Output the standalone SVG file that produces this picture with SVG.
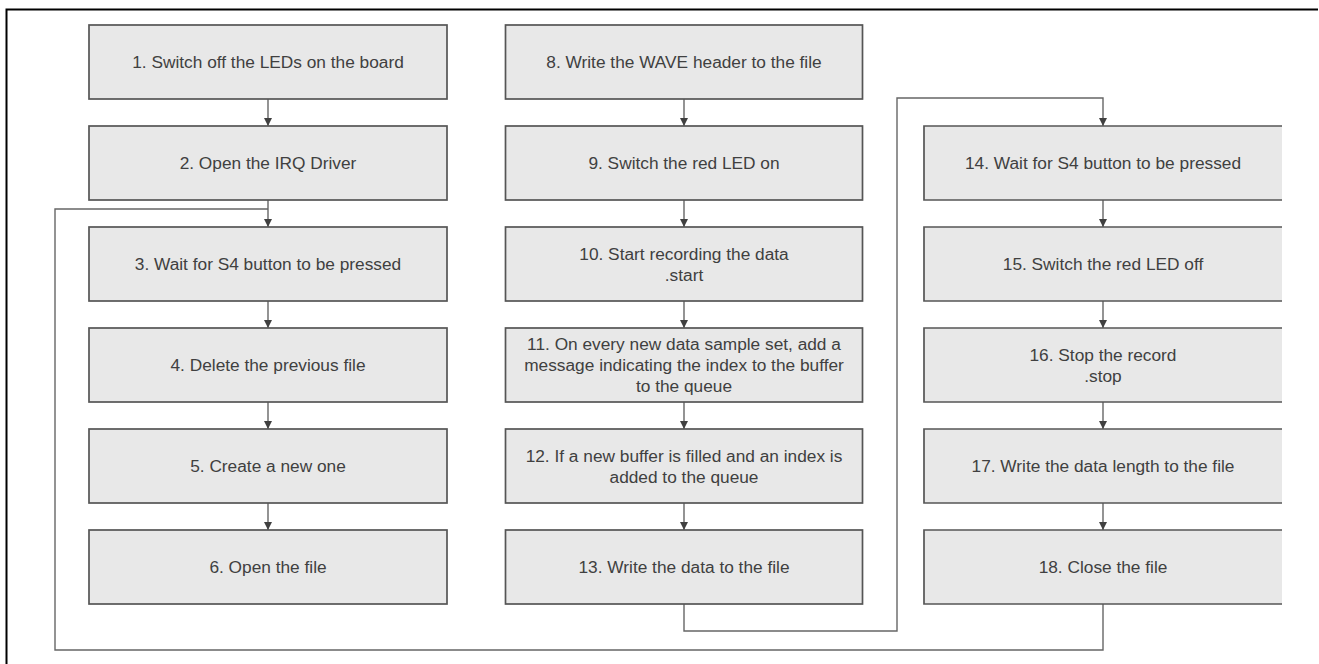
<svg xmlns="http://www.w3.org/2000/svg" width="1319" height="664" viewBox="0 0 1319 664">
<style>
.box{fill:#e8e8e8;stroke:#555;stroke-width:1.7}
.fill{fill:#e8e8e8}
.edge{fill:none;stroke:#555;stroke-width:1.7}
.t{font-family:"Liberation Sans",Arial,sans-serif;font-size:17.3px;fill:#404040;text-anchor:middle}
.c{fill:none;stroke:#666;stroke-width:1.4}
</style>
<defs>
<marker id="ah" markerWidth="8" markerHeight="8" refX="8" refY="4" orient="auto" markerUnits="userSpaceOnUse">
<path d="M0,0 L8,4 L0,8 Z" fill="#404040"/>
</marker>
</defs>
<rect width="1319" height="664" fill="#fff"/>
<path d="M6.5,664 V9.5 H1318" fill="none" stroke="#000" stroke-width="2"/>

<g id="connectors">
<path class="c" d="M268,99 V126" marker-end="url(#ah)"/>
<path class="c" d="M268,200 V227" marker-end="url(#ah)"/>
<path class="c" d="M268,301 V328" marker-end="url(#ah)"/>
<path class="c" d="M268,402 V429" marker-end="url(#ah)"/>
<path class="c" d="M268,503 V530" marker-end="url(#ah)"/>
<path class="c" d="M1103,604 V650 H55 V209 H268"/>
<path class="c" d="M684,99 V126" marker-end="url(#ah)"/>
<path class="c" d="M684,200 V227" marker-end="url(#ah)"/>
<path class="c" d="M684,301 V328" marker-end="url(#ah)"/>
<path class="c" d="M684,402 V429" marker-end="url(#ah)"/>
<path class="c" d="M684,503 V530" marker-end="url(#ah)"/>
<path class="c" d="M684,604 V631 H897 V98 H1103 V126" marker-end="url(#ah)"/>
<path class="c" d="M1103,200 V227" marker-end="url(#ah)"/>
<path class="c" d="M1103,301 V328" marker-end="url(#ah)"/>
<path class="c" d="M1103,402 V429" marker-end="url(#ah)"/>
<path class="c" d="M1103,503 V530" marker-end="url(#ah)"/>
</g>

<g id="n1"><rect class="box" x="89" y="25" width="358" height="74"/><text class="t" x="268" y="68">1. Switch off the LEDs on the board</text></g>
<g id="n2"><rect class="box" x="89" y="126" width="358" height="74"/><text class="t" x="268" y="169">2. Open the IRQ Driver</text></g>
<g id="n3"><rect class="box" x="89" y="227" width="358" height="74"/><text class="t" x="268" y="270">3. Wait for S4 button to be pressed</text></g>
<g id="n4"><rect class="box" x="89" y="328" width="358" height="74"/><text class="t" x="268" y="371">4. Delete the previous file</text></g>
<g id="n5"><rect class="box" x="89" y="429" width="358" height="74"/><text class="t" x="268" y="472">5. Create a new one</text></g>
<g id="n6"><rect class="box" x="89" y="530" width="358" height="74"/><text class="t" x="268" y="573">6. Open the file</text></g>

<g id="n8"><rect class="box" x="505.5" y="25" width="357" height="74"/><text class="t" x="684" y="68">8. Write the WAVE header to the file</text></g>
<g id="n9"><rect class="box" x="505.5" y="126" width="357" height="74"/><text class="t" x="684" y="169">9. Switch the red LED on</text></g>
<g id="n10"><rect class="box" x="505.5" y="227" width="357" height="74"/><text class="t" x="684" y="259.5">10. Start recording the data</text><text class="t" x="684" y="280.5">.start</text></g>
<g id="n11"><rect class="box" x="505.5" y="328" width="357" height="74"/><text class="t" x="684" y="350">11. On every new data sample set, add a</text><text class="t" x="684" y="371">message indicating the index to the buffer</text><text class="t" x="684" y="392">to the queue</text></g>
<g id="n12"><rect class="box" x="505.5" y="429" width="357" height="74"/><text class="t" x="684" y="461.5">12. If a new buffer is filled and an index is</text><text class="t" x="684" y="482.5">added to the queue</text></g>
<g id="n13"><rect class="box" x="505.5" y="530" width="357" height="74"/><text class="t" x="684" y="573">13. Write the data to the file</text></g>

<g id="n14"><rect class="fill" x="924" y="126" width="358" height="74"/><path class="edge" d="M1282,126 H924 V200 H1282"/><text class="t" x="1103" y="169">14. Wait for S4 button to be pressed</text></g>
<g id="n15"><rect class="fill" x="924" y="227" width="358" height="74"/><path class="edge" d="M1282,227 H924 V301 H1282"/><text class="t" x="1103" y="270">15. Switch the red LED off</text></g>
<g id="n16"><rect class="fill" x="924" y="328" width="358" height="74"/><path class="edge" d="M1282,328 H924 V402 H1282"/><text class="t" x="1103" y="360.5">16. Stop the record</text><text class="t" x="1103" y="381.5">.stop</text></g>
<g id="n17"><rect class="fill" x="924" y="429" width="358" height="74"/><path class="edge" d="M1282,429 H924 V503 H1282"/><text class="t" x="1103" y="472">17. Write the data length to the file</text></g>
<g id="n18"><rect class="fill" x="924" y="530" width="358" height="74"/><path class="edge" d="M1282,530 H924 V604 H1282"/><text class="t" x="1103" y="573">18. Close the file</text></g>
</svg>
